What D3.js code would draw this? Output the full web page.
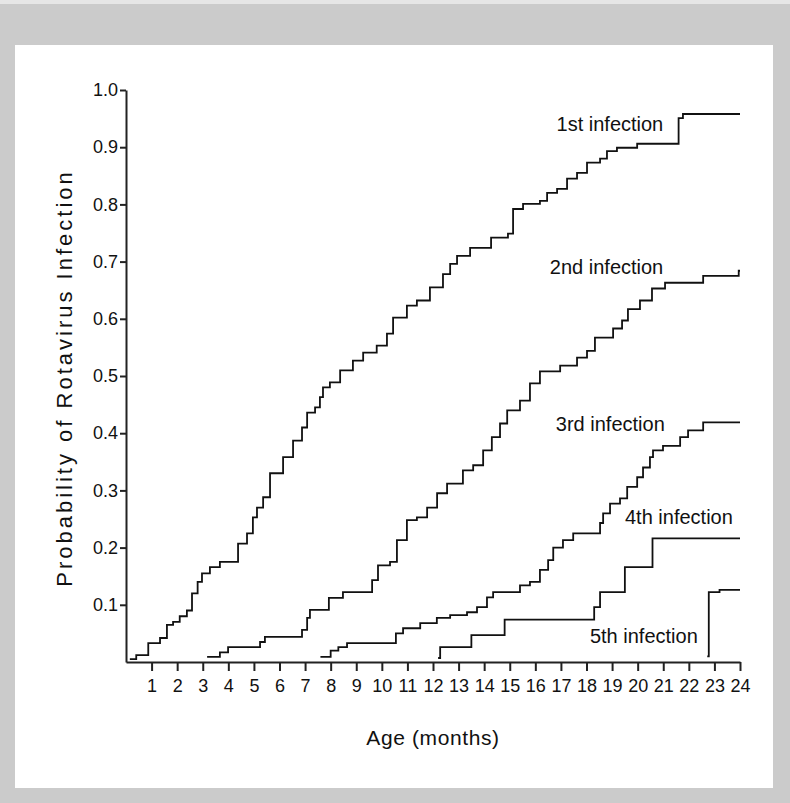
<!DOCTYPE html>
<html>
<head>
<meta charset="utf-8">
<script src="https://cdn.jsdelivr.net/npm/d3@7"></script>
<style>
  body { margin: 0; background: #cbcbcb; }
  svg text { font-family: "Liberation Sans Narrow", "Liberation Sans", Arial, sans-serif; fill: #111; }
</style>
</head>
<body>
<div id="container"></div>
<script>
/* DATA: [age in months, cumulative probability] */
const infection1 = [[0.15,0.005],[0.4,0.012],[0.87,0.033],[1.33,0.042],[1.6,0.065],[1.84,0.07],[2.1,0.08],[2.38,0.09],
  [2.58,0.12],[2.8,0.14],[2.97,0.155],[3.28,0.166],[3.67,0.175],[4.38,0.207],[4.73,0.225],[4.96,0.253],[5.12,0.27],
  [5.36,0.288],[5.63,0.33],[6.14,0.358],[6.53,0.387],[6.88,0.41],[7.08,0.436],[7.39,0.445],[7.58,0.463],[7.7,0.48],
  [7.97,0.489],[8.37,0.51],[8.87,0.527],[9.27,0.541],[9.8,0.553],[10.2,0.574],[10.44,0.602],[10.98,0.623],[11.37,0.632],
  [11.88,0.655],[12.39,0.678],[12.67,0.696],[12.94,0.71],[13.45,0.724],[14.27,0.742],[14.93,0.749],[15.13,0.792],
  [15.52,0.801],[16.18,0.806],[16.46,0.82],[16.85,0.827],[17.24,0.845],[17.63,0.855],[18.02,0.873],[18.53,0.88],
  [18.8,0.893],[19.19,0.899],[19.98,0.906],[21.6,0.951],[21.77,0.958],[24,0.958]];

const infection2 = [[3.17,0.009],[3.67,0.017],[3.99,0.026],[5.24,0.035],[5.43,0.044],[6.88,0.056],[7.08,0.077],
  [7.19,0.091],[7.93,0.112],[8.48,0.122],[9.62,0.143],[9.85,0.169],[10.32,0.175],[10.59,0.213],[10.98,0.248],
  [11.37,0.253],[11.77,0.27],[12.16,0.295],[12.55,0.312],[13.17,0.335],[13.57,0.344],[13.96,0.37],[14.3,0.393],
  [14.62,0.417],[14.9,0.44],[15.4,0.457],[15.79,0.487],[16.18,0.508],[16.97,0.518],[17.63,0.532],[18.02,0.544],
  [18.33,0.567],[19.04,0.583],[19.39,0.597],[19.62,0.617],[20.09,0.632],[20.56,0.653],[21.07,0.663],[22.56,0.675],
  [23.95,0.684],[24,0.684]];

const infection3 = [[7.6,0.009],[8.0,0.02],[8.3,0.026],[8.64,0.033],[10.55,0.05],[10.83,0.059],[11.5,0.068],
  [12.15,0.077],[12.67,0.082],[13.33,0.087],[13.72,0.096],[14.11,0.113],[14.35,0.122],[15.4,0.134],[15.79,0.14],
  [16.18,0.161],[16.5,0.178],[16.7,0.2],[17.08,0.213],[17.48,0.225],[18.53,0.243],[18.65,0.26],[18.92,0.277],
  [19.31,0.286],[19.59,0.306],[19.98,0.323],[20.21,0.34],[20.48,0.358],[20.6,0.37],[20.99,0.378],[21.66,0.393],
  [21.97,0.405],[22.56,0.419],[24,0.419]];

const infection4 = [[12.2,0.007],[12.28,0.026],[13.5,0.047],[14.8,0.074],[18.3,0.096],[18.53,0.122],[19.5,0.166],
  [20.58,0.216],[24,0.216]];

const infection5 = [[22.72,0.01],[22.78,0.122],[23.2,0.126],[24,0.126]];

const curveLabels = ["1st infection", "2nd infection", "3rd infection", "4th infection", "5th infection"];
// label anchor: [month, probability] of the right end of each label
const labelPos = [[21.0, 0.94], [21.0, 0.69], [21.06, 0.416], [23.72, 0.253], [22.35, 0.046]];

const xTicks = d3.range(1, 25);
const yTicks = d3.range(1, 11).map(d => d / 10);

/* SIZES */
const W = 790, H = 803;
const margin = {top: 90, right: 50, bottom: 141, left: 126};
const width = 740 - margin.left,
      height = 662 - margin.top;

const svg = d3.select("#container").append("svg")
    .attr("width", W)
    .attr("height", H);

/* BACKGROUND PANEL */
svg.append("rect").attr("width", W).attr("height", H).attr("fill", "#cbcbcb");
svg.append("rect").attr("width", W).attr("height", 4).attr("fill", "#e6e6e6");
svg.append("rect").attr("x", 15).attr("y", 45).attr("width", 758).attr("height", 743).attr("fill", "#fff");

const g = svg.append("g")
    .attr("transform", "translate(" + margin.left + "," + margin.top + ")");

/* SCALES */
const x = d3.scaleLinear().domain([0, 24]).range([0, width]);
const y = d3.scaleLinear().domain([0, 1]).range([height, 0]);

/* STEP LINES */
const line = d3.line()
    .x(d => x(d[0]))
    .y(d => y(d[1]))
    .curve(d3.curveStepAfter);

[infection1, infection2, infection3, infection4, infection5].forEach(s => {
  g.append("path")
      .datum(s)
      .attr("fill", "none")
      .attr("stroke", "#111")
      .attr("stroke-width", 1.8)
      .attr("d", line);
});

/* CURVE LABELS */
curveLabels.forEach((t, i) => {
  g.append("text")
      .attr("x", x(labelPos[i][0]))
      .attr("y", y(labelPos[i][1]))
      .attr("dy", "0.35em")
      .attr("text-anchor", "end")
      .style("font-size", "20px")
      .text(t);
});

/* X AXIS */
const xAxis = g.append("g")
    .attr("transform", "translate(0," + height + ")")
    .call(d3.axisBottom(x).tickValues(xTicks).tickSize(9).tickSizeOuter(0).tickPadding(8));

/* Y AXIS */
const yAxis = g.append("g")
    .call(d3.axisLeft(y).tickValues(yTicks).tickFormat(d3.format(".1f")).tickSize(6).tickSizeOuter(0).tickPadding(2));

[xAxis, yAxis].forEach(a => {
  a.select(".domain").attr("stroke", "#222").attr("stroke-width", 2);
  a.selectAll(".tick line").attr("stroke", "#222").attr("stroke-width", 2);
  a.selectAll(".tick text")
      .style("font-family", "\"Liberation Sans Narrow\", \"Liberation Sans\", Arial, sans-serif")
      .style("font-size", "18px")
      .attr("fill", "#111");
});

/* AXIS TITLES */
svg.append("text")
    .attr("transform", "rotate(-90)")
    .attr("x", -378)
    .attr("y", 64)
    .attr("dy", "0.35em")
    .style("text-anchor", "middle")
    .style("font-size", "22px")
    .style("letter-spacing", "3px")
    .text("Probability of Rotavirus Infection");

svg.append("text")
    .attr("x", 433)
    .attr("y", 738)
    .attr("dy", "0.35em")
    .style("text-anchor", "middle")
    .style("font-size", "21px")
    .style("letter-spacing", "0.6px")
    .text("Age (months)");
</script>
</body>
</html>
